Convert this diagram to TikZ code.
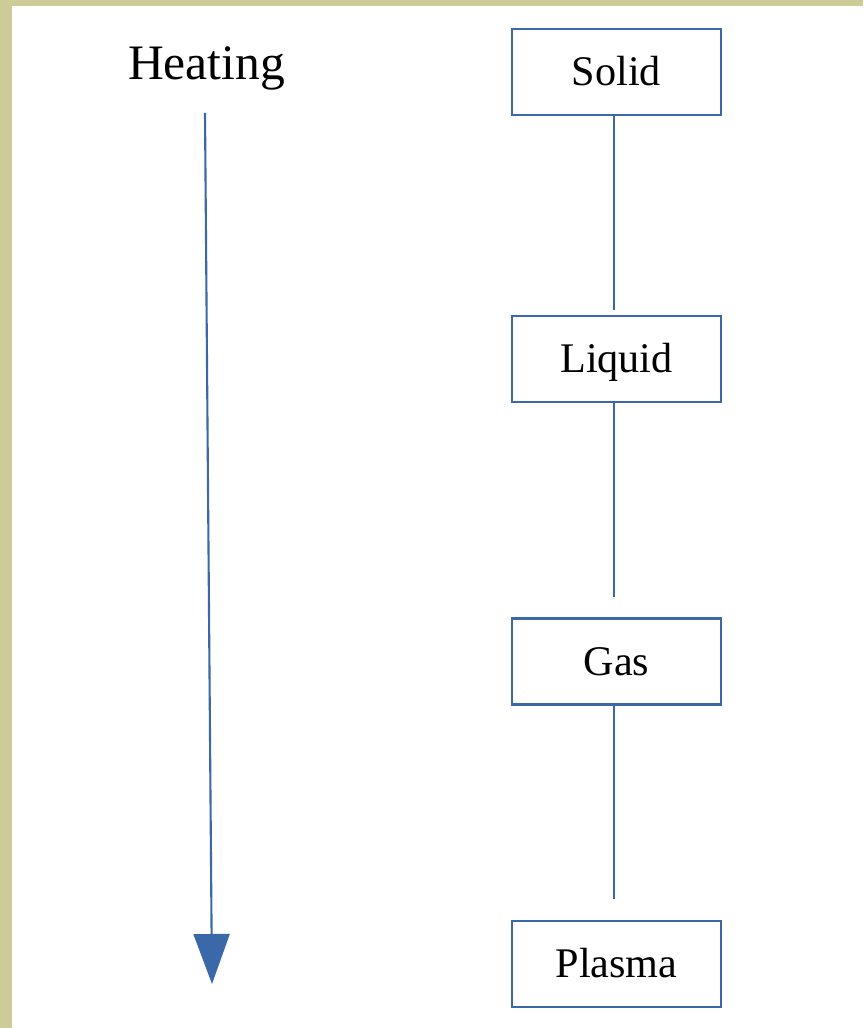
\documentclass[tikz,border=0pt]{standalone}
\usepackage{fontspec}
\setmainfont{Liberation Serif}
\usetikzlibrary{arrows.meta}
\definecolor{frameback}{RGB}{204,204,153}
\definecolor{stateblue}{RGB}{58,104,168}
\begin{document}
\begin{tikzpicture}[x=0.01cm,y=-0.01cm,
  statebox/.style={draw=stateblue,line width=0.6pt,fill=white,minimum width=2.09cm,
    minimum height=0.86cm,inner sep=0pt,text height=7.9pt,text depth=0pt,
    font=\fontsize{12}{14}\selectfont},
  link/.style={draw=stateblue,line width=0.6pt},
  heatarrow/.style={draw=stateblue,line width=0.6pt,
    -{Triangle[width=0.36cm,length=0.5cm,fill=stateblue]}}]
  % frame
  \fill[frameback] (0,0) rectangle (863,1028);
  \fill[white] (12,6) rectangle (863,1028);
  \useasboundingbox (0,0) rectangle (863,1028);
  % heating arrow
  \node[inner sep=0pt,text height=9.3pt,text depth=0pt] (heat) at (206.5,63.5)
    {\fontsize{14.1}{16}\selectfont Heating};
  \coordinate (htop) at (205,113);
  \coordinate (hbot) at (212,984);
  \draw[heatarrow] (htop) -- (hbot);
  % states
  \node[statebox] (1) at (616.5,72) {Solid};
  \node[statebox] (2) at (616.5,359) {Liquid};
  \node[statebox] (3) at (616.5,661.5) {Gas};
  \node[statebox] (4) at (616.5,964) {Plasma};
  \coordinate (e1) at (614,310);
  \coordinate (e2) at (614,597);
  \coordinate (e3) at (614,899);
  \draw[link] (1.south -| e1) -- (e1);
  \draw[link] (2.south -| e2) -- (e2);
  \draw[link] (3.south -| e3) -- (e3);
\end{tikzpicture}
\end{document}
